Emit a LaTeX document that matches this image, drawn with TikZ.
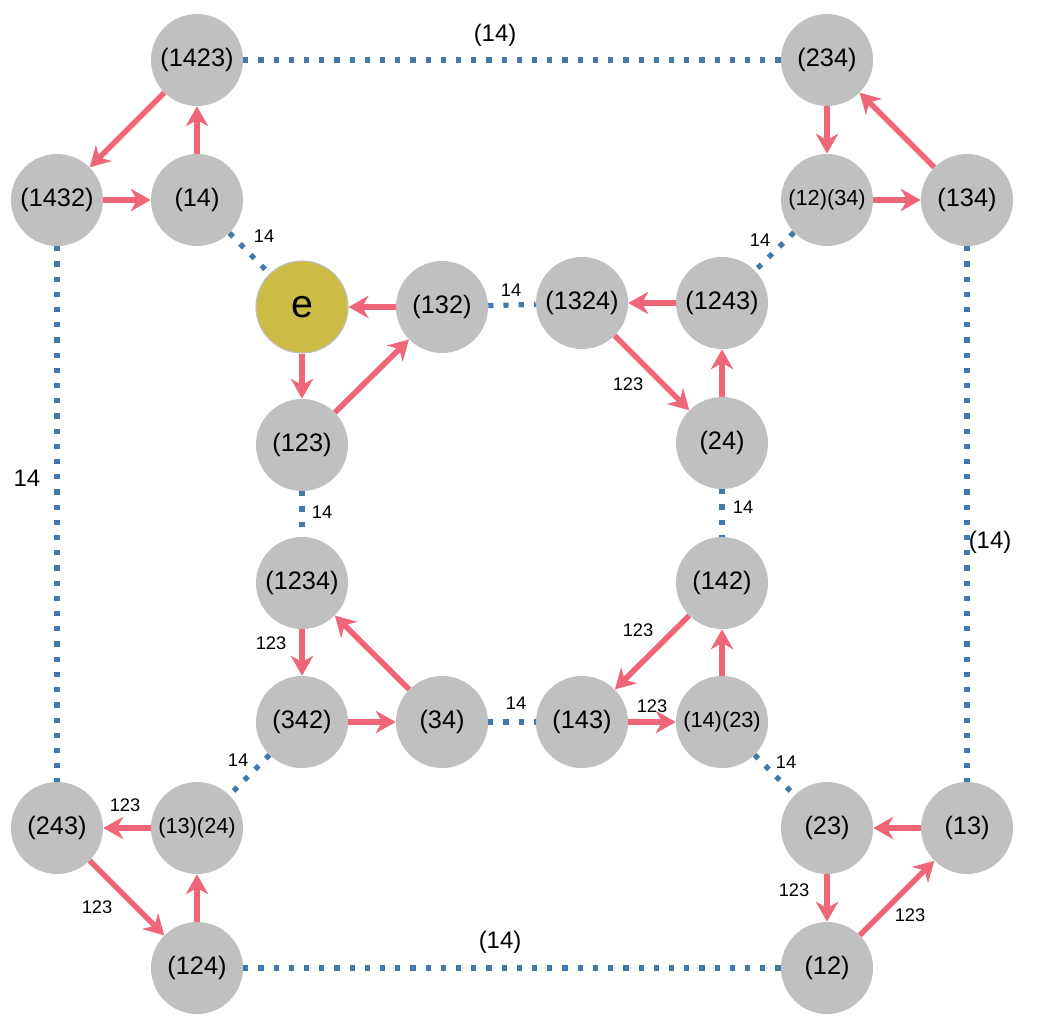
\documentclass[tikz,border=0pt]{standalone}
\usepackage{fontspec}
\setmainfont{Liberation Sans}
\usetikzlibrary{arrows.meta}
\definecolor{NodeGray}{HTML}{C0C0C0}
\definecolor{IdGold}{HTML}{CCBC45}
\definecolor{GenRed}{HTML}{EE6677}
\definecolor{FlipBlue}{HTML}{4477AA}

\begin{document}
\begin{tikzpicture}[
  x=0.25mm, y=-0.25mm,
  vertex/.style={circle, fill=NodeGray, minimum size=23mm, inner sep=0pt,
                 font=\fontsize{18}{20}\selectfont},
  pairvertex/.style={vertex, font=\fontsize{15.5}{18}\selectfont},
  idvertex/.style={vertex, fill=IdGold, draw=NodeGray, line width=0.8pt,
                   font=\fontsize{28}{30}\selectfont},
  gen/.style={-{Stealth[length=5mm, width=5.6mm, inset=1.6mm]}, line width=1.4mm, draw=GenRed},
  flip/.style={line width=1.3mm, draw=FlipBlue, dash pattern=on 1.3mm off 2.5mm},
  lbl/.style={font=\fontsize{13}{15}\selectfont},
  biglbl/.style={font=\fontsize{17}{19}\selectfont}
]
\useasboundingbox (0,0) rectangle (1046,1026);

% vertices
\node[vertex] (c1423) at (197,60) {(1423)};
\node[vertex] (c1432) at (57,200) {(1432)};
\node[vertex] (c14) at (197,200) {(14)};
\node[idvertex] (e) at (302,307) {e};
\node[vertex] (c132) at (442,307) {(132)};
\node[vertex] (c123) at (302,445) {(123)};
\node[vertex] (c1324) at (582,303) {(1324)};
\node[vertex] (c1243) at (722,303) {(1243)};
\node[vertex] (c24) at (722,443) {(24)};
\node[vertex] (c234) at (827,60) {(234)};
\node[pairvertex] (c12c34) at (827,200) {(12)(34)};
\node[vertex] (c134) at (967,200) {(134)};
\node[vertex] (c1234) at (302,583) {(1234)};
\node[vertex] (c342) at (302,722) {(342)};
\node[vertex] (c34) at (442,722) {(34)};
\node[vertex] (c143) at (582,722) {(143)};
\node[pairvertex] (c14c23) at (722,722) {(14)(23)};
\node[vertex] (c142) at (722,583) {(142)};
\node[vertex] (c243) at (57,828) {(243)};
\node[pairvertex] (c13c24) at (197,828) {(13)(24)};
\node[vertex] (c124) at (197,968) {(124)};
\node[vertex] (c23) at (827,828) {(23)};
\node[vertex] (c13) at (967,828) {(13)};
\node[vertex] (c12) at (827,968) {(12)};

% multiplication by (123)
\draw[gen] (c14) -- (c1423);
\draw[gen] (c1423) -- (c1432);
\draw[gen] (c1432) -- (c14);
\draw[gen] (c132) -- (e);
\draw[gen] (e) -- (c123);
\draw[gen] (c123) -- (c132);
\draw[gen] (c1324) -- (c24);
\draw[gen] (c24) -- (c1243);
\draw[gen] (c1243) -- (c1324);
\draw[gen] (c234) -- (c12c34);
\draw[gen] (c12c34) -- (c134);
\draw[gen] (c134) -- (c234);
\draw[gen] (c1234) -- (c342);
\draw[gen] (c342) -- (c34);
\draw[gen] (c34) -- (c1234);
\draw[gen] (c143) -- (c14c23);
\draw[gen] (c14c23) -- (c142);
\draw[gen] (c142) -- (c143);
\draw[gen] (c13c24) -- (c243);
\draw[gen] (c243) -- (c124);
\draw[gen] (c124) -- (c13c24);
\draw[gen] (c13) -- (c23);
\draw[gen] (c23) -- (c12);
\draw[gen] (c12) -- (c13);

% multiplication by (14)
\draw[flip] (c1423) -- (c234);
\draw[flip] (c1432) -- (c243);
\draw[flip] (c134) -- (c13);
\draw[flip] (c124) -- (c12);
\draw[flip] (c14) -- (e);
\draw[flip] (c132) -- (c1324);
\draw[flip] (c12c34) -- (c1243);
\draw[flip] (c123) -- (c1234);
\draw[flip] (c24) -- (c142);
\draw[flip] (c34) -- (c143);
\draw[flip] (c342) -- (c13c24);
\draw[flip] (c14c23) -- (c23);

% labels
\node[biglbl] (lTop) at (495,35) {(14)};
\node[biglbl] (lLeft) at (27,478) {14};
\node[biglbl] (lRight) at (990,542) {(14)};
\node[biglbl] (lBot) at (500,942) {(14)};
\node[lbl] (lA) at (264,236) {14};
\node[lbl] (lB) at (511,290) {14};
\node[lbl] (lC) at (760,240) {14};
\node[lbl] (lD) at (628,384) {123};
\node[lbl] (lE) at (322,512) {14};
\node[lbl] (lF) at (743,507) {14};
\node[lbl] (lG) at (271,643) {123};
\node[lbl] (lH) at (638,630) {123};
\node[lbl] (lI) at (516,703) {14};
\node[lbl] (lJ) at (652,706) {123};
\node[lbl] (lK) at (238,760) {14};
\node[lbl] (lL) at (786,762) {14};
\node[lbl] (lM) at (125,805) {123};
\node[lbl] (lN) at (97,907) {123};
\node[lbl] (lO) at (794,890) {123};
\node[lbl] (lP) at (910,915) {123};
\end{tikzpicture}
\end{document}
